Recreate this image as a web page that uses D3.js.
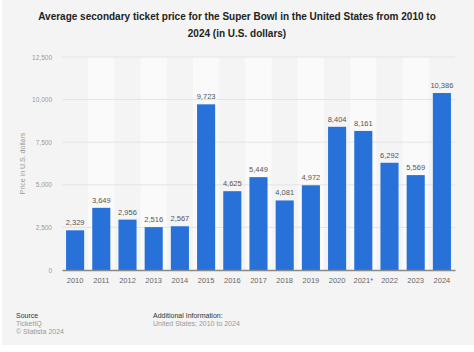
<!DOCTYPE html>
<html>
<head>
<meta charset="utf-8">
<script src="https://cdn.jsdelivr.net/npm/d3@7"></script>
<style>
  html, body { margin: 0; padding: 0; background: #fff; }
  svg { display: block; font-family: "Liberation Sans", Arial, sans-serif; }
</style>
</head>
<body>
<svg id="chart" width="474" height="352"></svg>
<script>
const years = ['2010', '2011', '2012', '2013', '2014', '2015', '2016', '2017',
  '2018', '2019', '2020', '2021*', '2022', '2023', '2024'];
const prices = [2329, 3649, 2956, 2516, 2567, 9723, 4625, 5449, 4081, 4972,
  8404, 8161, 6292, 5569, 10386];
const yTicks = [0, 2500, 5000, 7500, 10000, 12500];

var svg = d3.select('#chart'),
  width = +svg.attr('width'),
  height = +svg.attr('height');

var margin = { top: 57, right: 19, bottom: 82, left: 62 };
var innerW = width - margin.left - margin.right,
  innerH = height - margin.top - margin.bottom;

// card background
svg.append('rect')
  .attr('x', 2).attr('y', 0)
  .attr('width', width - 2).attr('height', 345)
  .attr('fill', '#f4f4f4');

var g = svg.append('g')
  .attr('transform', 'translate(' + margin.left + ',' + margin.top + ')');

var x = d3.scaleBand().domain(years).range([0, innerW]).paddingInner(0.31).paddingOuter(0.155);
var y = d3.scaleLinear().domain([0, 12500]).range([innerH, 0]);
var step = x.step();

// alternating column bands
g.selectAll('.band')
  .data(years.filter((d, i) => i % 2 === 1))
  .enter()
  .append('rect')
  .attr('class', 'band')
  .attr('x', d => x(d) + x.bandwidth() / 2 - step / 2)
  .attr('y', 0)
  .attr('width', step)
  .attr('height', innerH)
  .attr('fill', '#fafafa');

// gridlines
g.selectAll('.grid')
  .data(yTicks.slice(1))
  .enter()
  .append('line')
  .attr('x1', 0).attr('x2', innerW)
  .attr('y1', d => y(d)).attr('y2', d => y(d))
  .attr('stroke', '#e4e4e4')
  .attr('stroke-width', 1);

// y axis
var yAxis = g.append('g')
  .call(d3.axisLeft(y).tickValues(yTicks).tickSize(0).tickPadding(10)
    .tickFormat(d3.format(',')));
yAxis.select('.domain').remove();
yAxis.selectAll('text')
  .attr('fill', '#999')
  .style('font-size', '6.5px');

g.append('text')
  .attr('transform', 'translate(-37,' + (innerH / 2) + ') rotate(-90)')
  .attr('text-anchor', 'middle')
  .attr('fill', '#999')
  .style('font-size', '7px')
  .text('Price in U.S. dollars');

// bars
g.selectAll('.bar')
  .data(prices)
  .enter()
  .append('rect')
  .attr('class', 'bar')
  .attr('x', (d, i) => x(years[i]))
  .attr('y', d => y(d))
  .attr('width', x.bandwidth())
  .attr('height', d => innerH - y(d))
  .attr('fill', '#2771d9');

g.selectAll('.val')
  .data(prices)
  .enter()
  .append('text')
  .attr('x', (d, i) => x(years[i]) + x.bandwidth() / 2)
  .attr('y', d => y(d) - 5)
  .attr('text-anchor', 'middle')
  .attr('fill', '#555')
  .style('font-size', '7.5px')
  .text(d => d3.format(',')(d));

// x axis
var xAxis = g.append('g')
  .attr('transform', 'translate(0,' + innerH + ')')
  .call(d3.axisBottom(x).tickSize(0).tickPadding(8));
xAxis.select('.domain')
  .attr('stroke', '#888')
  .attr('stroke-width', 1.5);
xAxis.selectAll('text')
  .attr('fill', '#666')
  .style('font-size', '7.5px');

// title
var title = svg.append('text')
  .attr('text-anchor', 'middle')
  .attr('fill', '#222')
  .style('font-size', '10px')
  .style('font-weight', 'bold');
title.append('tspan').attr('x', 237).attr('y', 20)
  .text('Average secondary ticket price for the Super Bowl in the United States from 2010 to');
title.append('tspan').attr('x', 237).attr('y', 37)
  .text('2024 (in U.S. dollars)');

// footer
var foot = svg.append('g').style('font-size', '7px');
foot.append('text').attr('x', 16).attr('y', 318).attr('fill', '#333').text('Source');
foot.append('text').attr('x', 16).attr('y', 326).attr('fill', '#999').text('TicketIQ');
foot.append('text').attr('x', 16).attr('y', 334).attr('fill', '#999').text('\u00a9 Statista 2024');
foot.append('text').attr('x', 153).attr('y', 318).attr('fill', '#333').text('Additional Information:');
foot.append('text').attr('x', 153).attr('y', 326).attr('fill', '#999').text('United States; 2010 to 2024');
</script>
</body>
</html>
